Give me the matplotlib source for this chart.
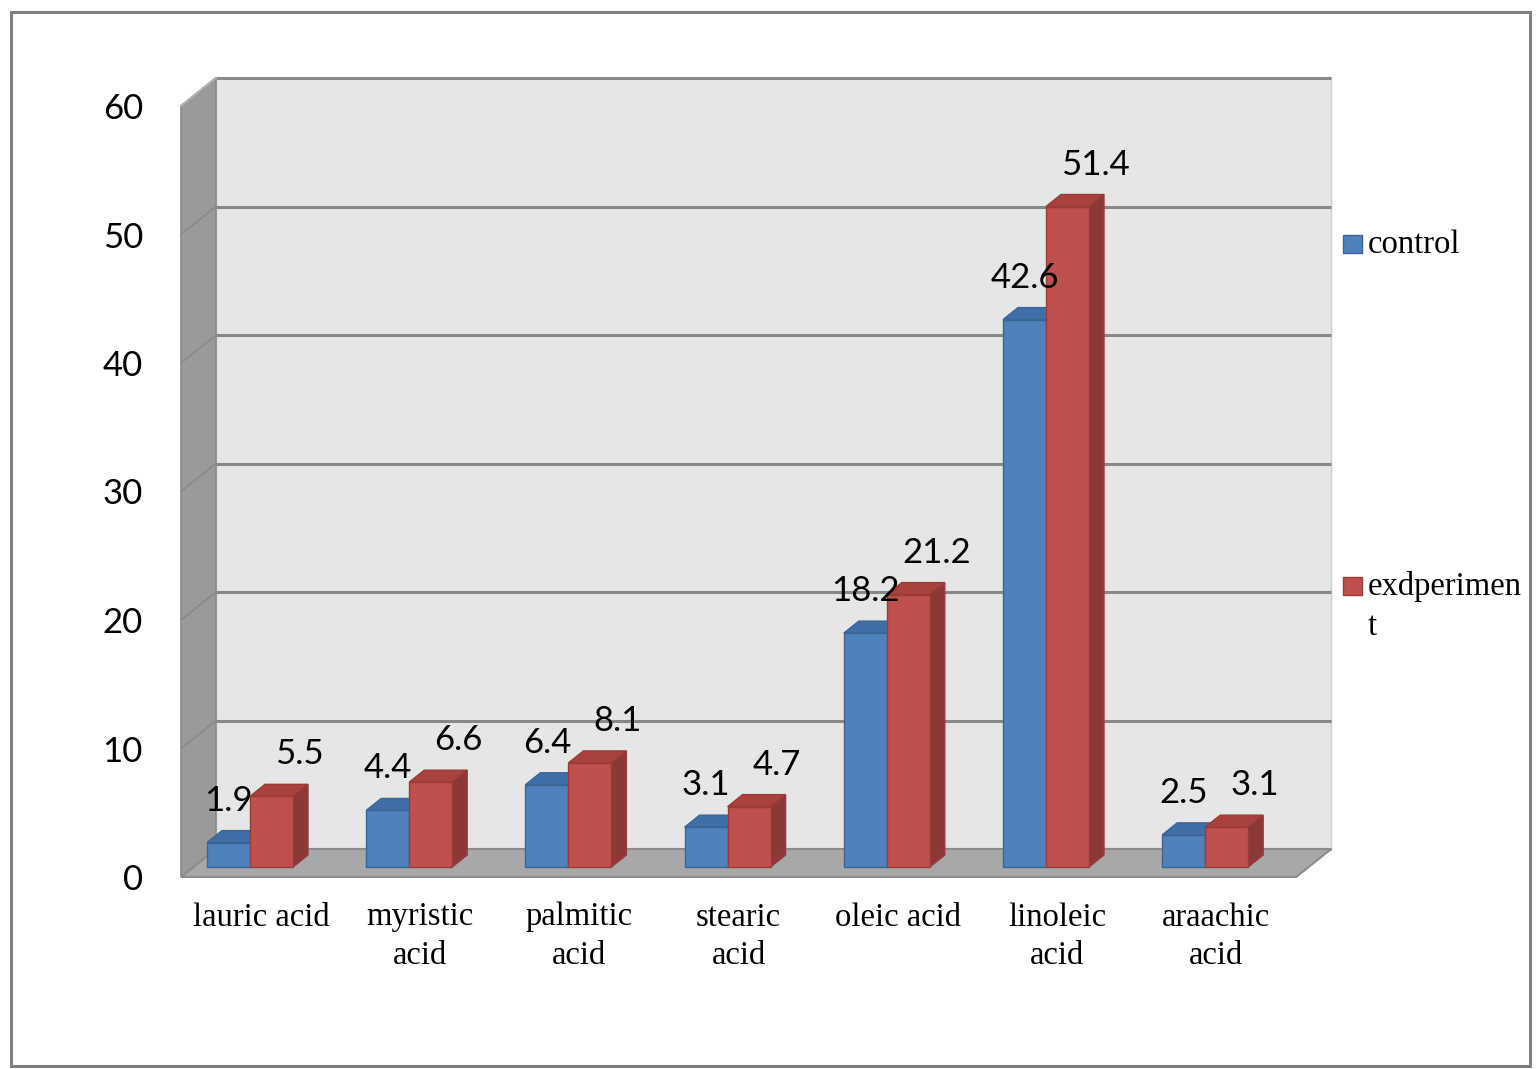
import numpy as np
import matplotlib
matplotlib.use("Agg")
from matplotlib import pyplot as plt
from matplotlib.patches import Polygon, Rectangle

# data
categories = ["lauric acid", "myristic\nacid", "palmitic\nacid", "stearic\nacid",
              "oleic acid", "linoleic\nacid", "araachic\nacid"]
control = [1.9, 4.4, 6.4, 3.1, 18.2, 42.6, 2.5]
experiment = [5.5, 6.6, 8.1, 4.7, 21.2, 51.4, 3.1]
y_ticks = [0, 10, 20, 30, 40, 50, 60]

W, H = 1539, 1069
fig = plt.figure(figsize=(W / 100, H / 100), dpi=100)
ax = fig.add_axes([0, 0, 1, 1])

# pixel scale of the bar plane
PX_CAT = 159.2
PX_VAL = 12.85
X0, Y0 = 250, 867
ax.set_xlim(-X0 / PX_CAT, (W - X0) / PX_CAT)
ax.set_ylim((Y0 - H) / PX_VAL, Y0 / PX_VAL)
ax.axis("off")

# oblique depth (full depth of the floor)
DX = 35 / PX_CAT
DY = 28 / PX_VAL
D_FRONT = -10 / 28
D_BACK = 18 / 28
D_BAR = 12 / 28
XL, XR = -0.355, 6.65
VMAX = 60


def P(x, v, d):
    return (x + d * DX, v + d * DY)


# back wall
ax.add_patch(Polygon([P(XL, 0, D_BACK), P(XR, 0, D_BACK), P(XR, VMAX, D_BACK), P(XL, VMAX, D_BACK)],
                     closed=True, facecolor="#e6e6e6", edgecolor="#d0d0d0", lw=1, zorder=0))
# left wall
ax.add_patch(Polygon([P(XL, 0, D_FRONT), P(XL, 0, D_BACK), P(XL, VMAX, D_BACK), P(XL, VMAX, D_FRONT)],
                     closed=True, facecolor="#9a9a9a", edgecolor="#8a8a8a", lw=1.2, zorder=0.5))
# floor
ax.add_patch(Polygon([P(XL, 0, D_FRONT), P(XR, 0, D_FRONT), P(XR, 0, D_BACK), P(XL, 0, D_BACK)],
                     closed=True, facecolor="#a8a8a8", edgecolor="#8c8c8c", lw=1.5, zorder=0.6))

# gridlines
for v in y_ticks:
    (x1, y1), (x2, y2) = P(XL, v, D_BACK), P(XR, v, D_BACK)
    ax.plot([x1, x2], [y1, y2], color="#888888", lw=2.2, zorder=0.4, solid_capstyle="butt")
    (x3, y3) = P(XL, v, D_FRONT)
    if v > 0:
        ax.plot([x3, x1], [y3, y1], color="#8a8a8a", lw=1.2, zorder=0.55)
# left wall top edge
(xa, ya), (xb, yb) = P(XL, VMAX, D_FRONT), P(XL, VMAX, D_BACK)
ax.plot([xa, xb], [ya, yb], color="#b0b0b0", lw=1.5, zorder=0.56)

# y tick labels
for v in y_ticks:
    x, y = P(XL, v, D_FRONT)
    ax.text(x - 38 / PX_CAT, y - 3 / PX_VAL, str(v), ha="right", va="center",
            fontsize=25, family="Lato", color="black")

# bars
bw = 43 / PX_CAT
xs = np.arange(len(categories))
bdx, bdy = D_BAR * DX, D_BAR * DY
series = [
    (control, -bw, "#4f81bd", "#3f6ea8", "#385d8a", "#3a6595", 0),
    (experiment, 0, "#c0504d", "#a9423f", "#8c3836", "#9b3b38", 28 / PX_CAT),
]
for k, (vals, off, cfront, ctop, cside, cedge, lab_dx) in enumerate(series):
    z = 2 + 3 * k
    ax.bar(xs + off, vals, bw, align="edge", color=cfront, edgecolor=cedge,
           lw=1, zorder=z + 2)
    for i, v in enumerate(vals):
        x0 = xs[i] + off
        ax.add_patch(Polygon([(x0, v), (x0 + bw, v), (x0 + bw + bdx, v + bdy), (x0 + bdx, v + bdy)],
                             closed=True, facecolor=ctop, edgecolor=cedge, lw=1, zorder=z))
        ax.add_patch(Polygon([(x0 + bw, 0), (x0 + bw, v), (x0 + bw + bdx, v + bdy), (x0 + bw + bdx, bdy)],
                             closed=True, facecolor=cside, edgecolor=cedge, lw=1, zorder=z + 1))
        ax.text(x0 + bw / 2 + lab_dx, v + 42 / PX_VAL, f"{v}", ha="center", va="center",
                fontsize=25, family="Lato", color="black", zorder=10)

# category labels
for i, name in enumerate(categories):
    ax.text(xs[i] + 11 / PX_CAT, -35 / PX_VAL, name, ha="center", va="top",
            fontsize=23.5, family="Liberation Serif", linespacing=1.33)

# legend
leg = [("control", "#4f81bd", "#3a6595", [253]),
       ("exdperimen", "#c0504d", "#9b3b38", [595, 635])]
for label, fc, ec, baselines in leg:
    b = baselines[0]
    fig.patches.append(Rectangle((1343 / W, 1 - b / H), 19 / W, 18 / H, transform=fig.transFigure,
                                 facecolor=fc, edgecolor=ec, lw=1))
    fig.text(1368 / W, 1 - b / H, label, ha="left", va="baseline",
             fontsize=23.5, family="Liberation Serif")
    if len(baselines) > 1:
        fig.text(1368 / W, 1 - baselines[1] / H, "t", ha="left", va="baseline",
                 fontsize=23.5, family="Liberation Serif")

# outer border
fig.patches.append(Rectangle((11 / W, 1 - 1066 / H), 1519 / W, 1054 / H, transform=fig.transFigure,
                             facecolor="none", edgecolor="#808080", lw=2.2))

plt.savefig("out.png", dpi=100)
